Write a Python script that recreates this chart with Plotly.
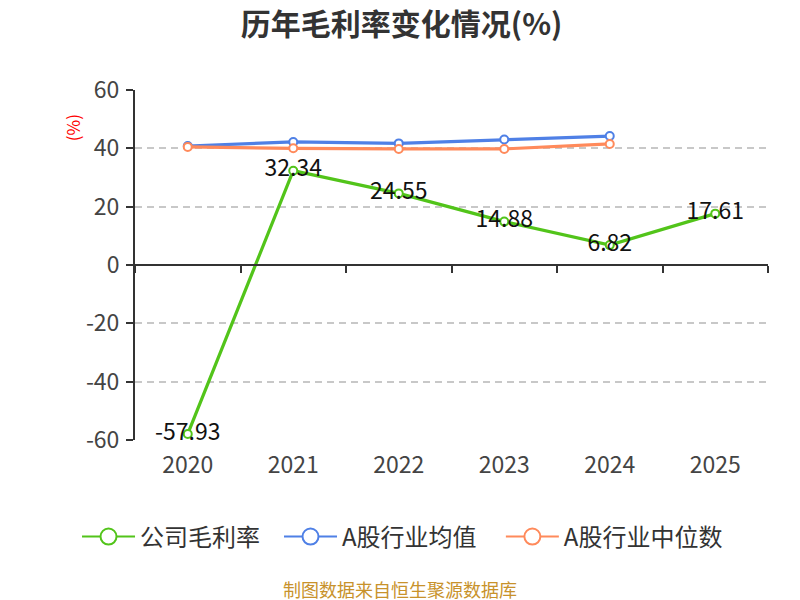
import plotly.graph_objects as go

years = ["2020", "2021", "2022", "2023", "2024", "2025"]
company = [-57.93, 32.34, 24.55, 14.88, 6.82, 17.61]
industry_avg = [40.8, 42.2, 41.7, 43.0, 44.2, None]
industry_median = [40.5, 40.0, 39.8, 39.8, 41.5, None]
y_ticks = [-60, -40, -20, 0, 20, 40, 60]

FONT = "Noto Sans CJK SC, Microsoft YaHei, sans-serif"
GREEN = "#52c41a"
BLUE = "#4f80e6"
ORANGE = "#ff8a5b"

ymin, ymax = -60, 60
ydom = [0.0, 1.0]

series = [
    ("公司毛利率", company, GREEN, True, "legend", -0.0916),
    ("A股行业均值", industry_avg, BLUE, False, "legend2", 0.2275),
    ("A股行业中位数", industry_median, ORANGE, False, "legend3", 0.578),
]

fig = go.Figure()
for name, vals, col, labels, lg, lx in series:
    kw = {}
    if labels:
        kw = dict(text=[f"{v:.2f}" for v in vals], textposition="middle center",
                  textfont=dict(size=23, color="#111111", family=FONT))
    fig.add_trace(go.Scatter(
        x=years, y=vals, name=name,
        mode="lines+markers+text" if labels else "lines+markers",
        line=dict(color=col, width=3.2),
        marker=dict(size=8, color="white", line=dict(color=col, width=2)),
        showlegend=False, **kw,
    ))
# legend entries with larger symbols
for name, vals, col, labels, lg, lx in series:
    fig.add_trace(go.Scatter(
        x=[None], y=[None], name=name, mode="lines+markers", legend=lg,
        line=dict(color=col, width=2),
        marker=dict(size=16, color="white", line=dict(color=col, width=2)),
    ))
# invisible trace to activate the zero-line category axis
fig.add_trace(go.Scatter(x=years, y=[None]*len(years), xaxis="x2",
                         showlegend=False, hoverinfo="skip", mode="lines"))

zero_pos = ydom[0] + (0 - ymin) / (ymax - ymin) * (ydom[1] - ydom[0])

legend_common = dict(orientation="h", xanchor="left", y=-0.277,
                     yanchor="middle", font=dict(size=24, color="#333333"),
                     itemwidth=53, bgcolor="rgba(0,0,0,0)")

fig.update_layout(
    width=800, height=600,
    paper_bgcolor="white", plot_bgcolor="white",
    margin=dict(l=127, r=40, t=82, b=168),
    font=dict(family=FONT, color="#333333"),
    title=dict(text="<b>历年毛利率变化情况(%)</b>", x=0.492, xanchor="center",
               y=0.972, yanchor="middle", font=dict(size=30, color="#333333")),
    xaxis=dict(type="category", range=[-0.5, 5.5], showline=False, ticks="",
               showgrid=False, ticklabelstandoff=9,
               tickfont=dict(size=23, color="#444444"), zeroline=False),
    xaxis2=dict(type="category", overlaying="x", matches="x", anchor="free",
                position=zero_pos, side="bottom", showline=True,
                linecolor="#333333", linewidth=2, ticks="outside",
                tickson="boundaries", ticklen=7, tickcolor="#333333",
                tickwidth=2, showticklabels=False, showgrid=False,
                zeroline=False),
    yaxis=dict(range=[ymin, ymax], domain=ydom, tickvals=y_ticks,
               ticktext=[str(v) for v in y_ticks], ticklabelstandoff=2,
               showline=True, linecolor="#333333", linewidth=2,
               ticks="outside", ticklen=7, tickcolor="#333333", tickwidth=2,
               showgrid=True, gridcolor="#c8c8c8", griddash="7px,5px",
               gridwidth=1.5, zeroline=False,
               tickfont=dict(size=23, color="#444444")),
    legend=dict(x=series[0][5], **legend_common),
    legend2=dict(x=series[1][5], **legend_common),
    legend3=dict(x=series[2][5], **legend_common),
    showlegend=True,
)
fig.add_annotation(text="(%)", textangle=-90, xref="paper", yref="paper",
                   x=-0.0995, y=0.891, xanchor="center", yanchor="middle",
                   showarrow=False, font=dict(size=17, color="red"))
fig.add_annotation(text="制图数据来自恒生聚源数据库", xref="paper", yref="paper",
                   x=0.4186, y=-0.426, xanchor="center", yanchor="middle",
                   showarrow=False, font=dict(size=18, color="#c8922b"))

fig.write_html("out.html")
